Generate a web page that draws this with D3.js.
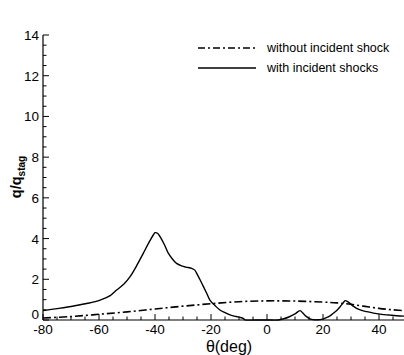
<!DOCTYPE html>
<html><head><meta charset="utf-8">
<script src="https://cdn.jsdelivr.net/npm/d3@7"></script>
<style>body{margin:0;background:#fff}svg{display:block}text{font-family:Arial,"Liberation Sans",sans-serif}</style>
</head><body><svg id="c" width="404" height="355"></svg>
<script>
const withTheta = [-80,-75,-69,-64,-59.6,-56,-53.7,-51,-48.9,-46.5,-44.2,-42,-40.5,-40,-39,-38.2,-36.5,-35.2,-33.5,-32.3,-30.5,-29,-26.9,-25.8,-25.1,-24,-22.7,-21.5,-20.4,-18.5,-16.8,-15,-13.2,-11,-9.6,-8.5,-7.9,-4,0,4,6,8,10,11.8,12.8,14,15.2,16,17,18,19.5,21,22.5,23.7,25,26.1,27.2,27.9,28.6,29.6,30.8,32,33.8,35.6,38,40.4,44,47.5,50];
const withQ =     [0.46,0.56,0.69,0.82,0.98,1.2,1.47,1.78,2.13,2.68,3.27,3.85,4.2,4.29,4.25,4.09,3.66,3.27,2.95,2.78,2.66,2.6,2.54,2.45,2.29,2.0,1.64,1.3,0.98,0.7,0.49,0.36,0.25,0.17,0.13,0.08,0.01,0,0,0,0.06,0.16,0.3,0.46,0.34,0.18,0.07,0.03,0.01,0.01,0.03,0.1,0.2,0.33,0.48,0.65,0.84,0.95,0.92,0.82,0.68,0.57,0.47,0.41,0.34,0.29,0.24,0.2,0.19];
const withoutTheta = [-80,-70,-60,-50,-40,-30,-20,-10,0,10,20,25,30,35,40,45,50];
const withoutQ =     [0.1,0.17,0.28,0.4,0.54,0.68,0.8,0.9,0.94,0.93,0.88,0.84,0.77,0.67,0.57,0.5,0.45];
const xTicks = [-80,-60,-40,-20,0,20,40];
const yTicks = [0,2,4,6,8,10,12,14];
const legendLabels = ["without incident shock","with incident shocks"];

const svg = d3.select("#c");
const x = d3.scaleLinear().domain([-80,50]).range([43,407]);
const y = d3.scaleLinear().domain([0,14]).range([320,35]);

const g = svg.append("g");
g.append("line").attr("x1",43).attr("x2",43).attr("y1",y(14)).attr("y2",y(0)).attr("stroke","#000").attr("stroke-width",1.2);
g.append("line").attr("x1",43).attr("x2",404).attr("y1",y(0)).attr("y2",y(0)).attr("stroke","#000").attr("stroke-width",1.2);
d3.range(0,14.01,0.5).forEach(v=>{
  const major = Math.abs(v%2)<1e-6;
  g.append("line").attr("x1",43).attr("x2",43+(major?6:3.5)).attr("y1",y(v)).attr("y2",y(v)).attr("stroke","#000").attr("stroke-width",1);
});
d3.range(-80,50.01,5).forEach(v=>{
  const major = Math.abs(v%20)<1e-6;
  g.append("line").attr("x1",x(v)).attr("x2",x(v)).attr("y1",y(0)).attr("y2",y(0)-(major?6:3.5)).attr("stroke","#000").attr("stroke-width",1);
});
yTicks.forEach(v=>{
  g.append("text").attr("x",39).attr("y",y(v)+(v===0?-1:5)).attr("text-anchor","end").attr("font-size",13.5).attr("fill","#000").text(v);
});
xTicks.forEach(v=>{
  g.append("text").attr("x",x(v)).attr("y",334).attr("text-anchor","middle").attr("font-size",13.5).attr("fill","#000").text(v);
});
svg.append("text").attr("x",229).attr("y",352).attr("text-anchor","middle").attr("font-size",16).text("θ(deg)");
const yl = svg.append("text").attr("transform","translate(21,177) rotate(-90)").attr("text-anchor","middle").attr("font-size",14.5).attr("font-weight","bold");
yl.append("tspan").text("q/q");
yl.append("tspan").attr("font-size",10).attr("dy",4).text("stag");

svg.append("clipPath").attr("id","cp").append("rect").attr("x",43).attr("y",0).attr("width",361).attr("height",y(0)+1);
const line = d3.line().x(d=>x(d[0])).y(d=>y(d[1])).curve(d3.curveCatmullRom.alpha(0.5));
const plot = svg.append("g").attr("clip-path","url(#cp)");
plot.append("path").datum(withoutTheta.map((t,i)=>[t,withoutQ[i]])).attr("d",line).attr("fill","none").attr("stroke","#000").attr("stroke-width",1.6).attr("stroke-dasharray","8,3,2,3");
plot.append("path").datum(withTheta.map((t,i)=>[t,withQ[i]])).attr("d",line).attr("fill","none").attr("stroke","#000").attr("stroke-width",1.4);

const lg = svg.append("g");
lg.append("line").attr("x1",198).attr("x2",256).attr("y1",48).attr("y2",48).attr("stroke","#000").attr("stroke-width",1.6).attr("stroke-dasharray","7,3,2,3");
lg.append("line").attr("x1",198).attr("x2",256).attr("y1",68).attr("y2",68).attr("stroke","#000").attr("stroke-width",1.4);
lg.append("text").attr("x",267).attr("y",52).attr("font-size",12.5).text(legendLabels[0]);
lg.append("text").attr("x",267).attr("y",72).attr("font-size",12.5).text(legendLabels[1]);
</script></body></html>
